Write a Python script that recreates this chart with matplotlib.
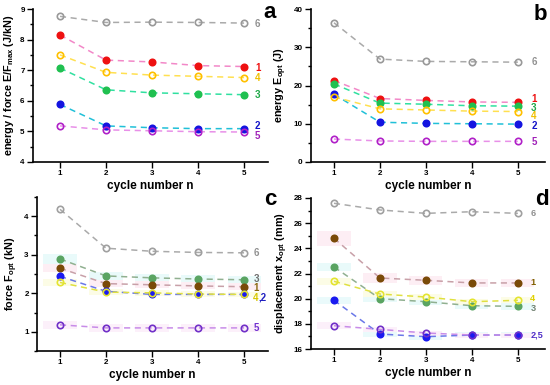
import matplotlib
matplotlib.use("Agg")
import matplotlib.pyplot as plt
from matplotlib.ticker import MultipleLocator

plt.rcParams['font.family'] = ['Liberation Sans', 'DejaVu Sans']
plt.rcParams['font.weight'] = 'bold'
plt.rcParams['mathtext.default'] = 'regular'

cycles = [1, 2, 3, 4, 5]

# panel a: energy / force E/Fmax (J/kN)
a_vals = {
    '6': [8.76, 8.56, 8.57, 8.56, 8.54],
    '1': [8.15, 7.33, 7.27, 7.15, 7.12],
    '4': [7.50, 6.93, 6.84, 6.80, 6.76],
    '3': [7.07, 6.36, 6.26, 6.23, 6.20],
    '2': [5.88, 5.18, 5.12, 5.09, 5.09],
    '5': [5.18, 5.05, 5.02, 4.99, 4.98],
}
# panel b: energy Eopt (J)
b_vals = {
    '6': [36.4, 26.9, 26.3, 26.2, 26.1],
    '1': [21.3, 16.6, 16.1, 15.7, 15.6],
    '3': [20.4, 15.4, 15.1, 14.7, 14.6],
    '2': [17.7, 10.4, 10.1, 10.0, 9.9],
    '4': [17.0, 13.9, 13.6, 13.3, 13.2],
    '5': [6.0, 5.5, 5.4, 5.4, 5.4],
}
# panel c: force Fopt (kN)
c_vals = {
    '6': [4.18, 3.17, 3.09, 3.06, 3.05],
    '3': [2.89, 2.45, 2.40, 2.37, 2.35],
    '1': [2.65, 2.25, 2.22, 2.19, 2.17],
    '2': [2.44, 2.05, 1.97, 1.97, 1.97],
    '4': [2.28, 2.03, 2.01, 1.98, 1.97],
    '5': [1.18, 1.10, 1.10, 1.10, 1.10],
}
c_err = {
    '3': [0.12, 0.11, 0.10, 0.10, 0.10],
    '1': [0.10, 0.10, 0.09, 0.09, 0.09],
    '4': [0.08, 0.07, 0.07, 0.07, 0.07],
    '5': [0.10, 0.10, 0.10, 0.10, 0.10],
}
# panel d: displacement xopt (mm)
d_vals = {
    '6': [27.58, 27.05, 26.78, 26.91, 26.78],
    '1': [24.80, 21.64, 21.46, 21.25, 21.25],
    '3': [22.52, 20.00, 19.76, 19.44, 19.39],
    '4': [21.38, 20.37, 20.13, 19.76, 19.87],
    '2': [19.87, 17.19, 16.98, 17.11, 17.11],
    '5': [17.85, 17.56, 17.27, 17.11, 17.11],
}
d_err = {
    '1': [0.60, 0.40, 0.35, 0.35, 0.35],
    '3': [0.35, 0.30, 0.30, 0.30, 0.30],
    '4': [0.28, 0.25, 0.25, 0.25, 0.25],
    '2': [0.30, 0.25, 0.25, 0.25, 0.25],
    '5': [0.30, 0.20, 0.20, 0.20, 0.20],
}

# styles: (marker face, marker edge, line colour)
style_ab = {
    '6': ('none', '#999999', '#aaaaaa'),
    '1': ('#ee1111', '#ee1111', '#f288c8'),
    '4': ('none', '#ffc000', '#ffe050'),
    '3': ('#20c050', '#20c050', '#30e0a0'),
    '2': ('#1414e0', '#1414e0', '#20c0d8'),
    '5': ('none', '#b020c8', '#e890e8'),
}
style_cd = {
    '6': ('none', '#a0a0a0', '#aaaaaa'),
    '3': ('#5aa462', '#5aa462', '#90b090'),
    '1': ('#7a4a08', '#7a4a08', '#c8a0a8'),
    '2': ('#1a1af0', '#1a1af0', '#6a78e8'),
    '4': ('none', '#e4e430', '#e0e040'),
    '5': ('none', '#7030c8', '#c88ce8'),
}
band_col = {'3': '#e9fafa', '1': '#fdeef4', '4': '#fcfce6', '2': '#eafafb', '5': '#fcf0fa'}

lab_a = [('6', 8.52, '#909090'), ('1', 7.07, '#ee1111'), ('4', 6.76, '#f0c000'),
         ('3', 6.18, '#20a848'), ('2', 5.17, '#1414c8'), ('5', 4.86, '#a020b8')]
lab_b = [('6', 26.1, '#909090'), ('1', 16.5, '#ee1111'), ('3', 14.2, '#20a848'),
         ('4', 11.9, '#f0c000'), ('2', 9.5, '#1414c8'), ('5', 5.3, '#a020b8')]
lab_c = [('6', 3.05, '#909090'), ('3', 2.37, '#707070'), ('1', 2.13, '#8a6a10'),
         ('5', 1.10, '#7030d0')]
lab_d = [('6', 26.75, '#909090'), ('1', 21.27, '#806000'), ('4', 20.02, '#e0d000'),
         ('3', 19.22, '#708070'), ('2,5', 17.11, '#5030c8')]

W, H = 550, 385
fig = plt.figure(figsize=(5.5, 3.85), dpi=100)

def mkax(l, r, t, b):
    return fig.add_axes([l / W, (H - b) / H, (r - l) / W, (b - t) / H])

def style_axis(ax, xlim, ylim, major, minor, ylabel):
    ax.set_xlim(*xlim)
    ax.set_ylim(*ylim)
    for s in ['top', 'right']:
        ax.spines[s].set_visible(False)
    for s in ['left', 'bottom']:
        ax.spines[s].set_linewidth(1.2)
    ax.set_xticks(cycles)
    ax.yaxis.set_major_locator(MultipleLocator(major))
    ax.yaxis.set_minor_locator(MultipleLocator(minor))
    ax.tick_params(axis='both', which='major', direction='out', length=4, width=1,
                   labelsize=5.8, pad=2)
    ax.tick_params(axis='y', which='minor', direction='out', length=2.5, width=1)
    for lab in ax.get_xticklabels() + ax.get_yticklabels():
        lab.set_fontweight('bold')
    ax.set_xlabel('cycle number n', fontsize=8.5, fontweight='bold', labelpad=2)
    ax.set_ylabel(ylabel, fontsize=7.8, fontweight='bold', labelpad=3)

def draw(ax, vals, styles, errs=None):
    if errs:
        for k, e in errs.items():
            lo = [v - ee for v, ee in zip(vals[k], e)]
            hi = [2 * ee for ee in e]
            ax.bar(cycles, hi, bottom=lo, width=0.72, color=band_col[k], zorder=0,
                   edgecolor='none')
    for k, v in vals.items():
        fc, ec, lc = styles[k]
        ax.plot(cycles, v, ls=(0, (4, 3)), color=lc, lw=1.1, zorder=2)
        ax.plot(cycles, v, ls='none', marker='o', ms=4.6, mfc=fc, mec=ec,
                mew=1.2, zorder=3)

def labels(ax, labs, xpos, fs=7):
    for t, y, c in labs:
        ax.text(xpos, y, t, color=c, fontsize=fs, fontweight='bold', va='center',
                ha='left')

# a
ax = mkax(33, 268, 9, 162)
draw(ax, a_vals, style_ab)
style_axis(ax, (0.413, 5.52), (4, 9), 1, 0.5, r'energy / force E/F$_{max}$ (J/kN)')
labels(ax, lab_a, 5.24)
# b
ax = mkax(311, 545, 9, 162)
draw(ax, b_vals, style_ab)
style_axis(ax, (0.5, 5.59), (0, 40), 10, 5, r'energy E$_{opt}$ (J)')
labels(ax, lab_b, 5.29)
# c
ax = mkax(37, 268, 197, 351)
draw(ax, c_vals, style_cd, c_err)
style_axis(ax, (0.5, 5.52), (0.5, 4.5), 1, 0.5, r'force F$_{opt}$ (kN)')
labels(ax, lab_c, 5.2)
ax.text(5.2, 1.88, '4', color='#d8c800', fontsize=7, fontweight='bold', va='center', ha='left')
ax.text(5.32, 1.88, ',2', color='#2020c0', fontsize=7, fontweight='bold', va='center', ha='left')
# d
ax = mkax(311, 545, 198, 349)
draw(ax, d_vals, style_cd, d_err)
style_axis(ax, (0.5, 5.59), (16, 28), 2, 1, r'displacement x$_{opt}$ (mm)')
labels(ax, lab_d, 5.27, fs=6.6)

# panel letters
for t, x, y in [('a', 270, 12), ('b', 540, 14), ('c', 270, 200), ('d', 542, 200)]:
    fig.text(x / W, 1 - y / H, t, fontsize=16, fontweight='bold', ha='center', va='center')

fig.savefig('out.png', dpi=100)
